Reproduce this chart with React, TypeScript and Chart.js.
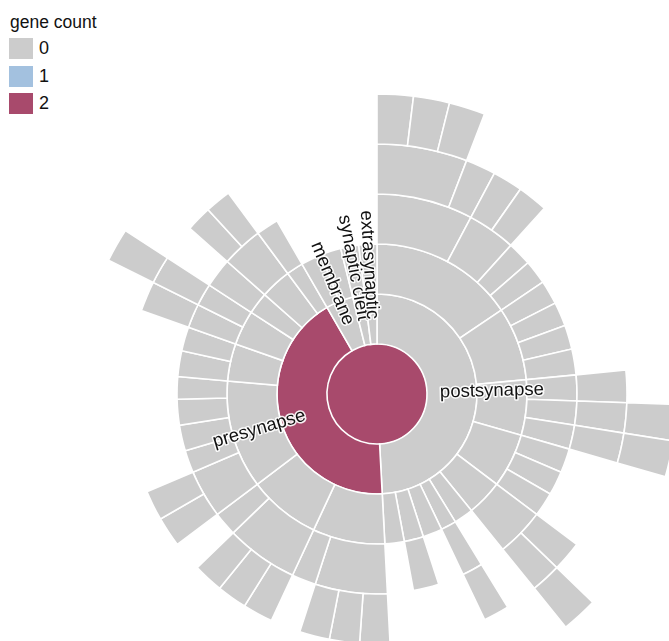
import React, { useEffect, useRef } from 'react';
import { Chart, registerables } from 'chart.js';

Chart.register(...registerables);

// colours of the gene-count scale
const countColors = ['#cccccc', '#a3c1df', '#a84a6c'];
const legendTitle = 'gene count';
const legendValues = [0, 1, 2];

// level 0 : synapse (whole circle)
const rootSpans = [360];
const rootCounts = [2];

// level 1 (degrees, clockwise from top)
const ring1Labels = ['postsynapse', 'presynapse', 'membrane', 'synaptic cleft', 'extrasynaptic'];
const ring1Spans = [177, 153, 16, 7, 7];
const ring1Counts = [0, 2, 0, 0, 0];

// level 2
const ring2Spans = [56, 28.5, 21.5, 21, 14, 7.5, 6, 7.5, 7.5, 7.5, 28, 28, 42, 14.5, 13.5, 8.5, 12, 6.5, 8, 8, 7, 7];
const ring2Counts = [0, 0, 0, 0, 0, 0, 0, 0, 0, 0, 0, 0, 0, 0, 0, 0, 0, 0, 0, 0, 0, 0];

// level 3 (null = no term)
const ring3Spans = [28, 14, 7, 7, 7, 7, 7, 7.5, 7.5, 7, 7, 7, 7, 7, 14, 7.5, 6, 7.5, 7.5, 7.5, 21, 7, 21, 7, 14, 6.5, 7.5, 7.5, 6.5, 7.5, 7, 7, 6.5, 8.5, 12, 6.5, 30];
const ring3Counts = [0, 0, 0, 0, 0, 0, 0, 0, 0, 0, 0, 0, 0, 0, 0, null, 0, null, 0, null, 0, 0, 0, 0, 0, 0, 0, 0, 0, 0, 0, 0, 0, 0, 0, 0, null];

// level 4
const ring4Spans = [21, 7, 7, 7, 42.5, 7.5, 7, 7, 21, 7, 7, 7.5, 6, 22.5, 7, 7, 7, 7, 7, 7, 7, 7, 7, 7, 42.5, 7, 6.5, 8.5, 6, 6, 36.5];
const ring4Counts = [0, 0, 0, 0, null, 0, 0, 0, null, 0, 0, null, 0, null, 0, 0, 0, null, 0, 0, 0, null, 0, 0, null, 0, 0, null, 0, 0, null];

// level 5
const ring5Spans = [7, 7, 7, 71, 7, 7, 28, 7, 155.5, 6.5, 57];
const ring5Counts = [0, 0, 0, null, 0, 0, null, 0, null, 0, null];

const CENTER_X = 377;
const CENTER_Y = 394;
const OUTER = 300;
const PAD = 4;
const SIZE = 2 * (OUTER + PAD);

function ring(spans: number[], counts: (number | null)[], border = 1.6) {
  return {
    data: spans,
    backgroundColor: counts.map((c) => (c === null ? 'rgba(0,0,0,0)' : countColors[c])),
    borderColor: '#ffffff',
    borderWidth: counts.map((c) => (c === null ? 0 : border)),
    borderAlign: 'center' as const,
    borderJoinStyle: 'miter' as const,
  };
}

const labelPlugin = {
  id: 'ringLabels',
  afterDatasetsDraw(chart: any) {
    const meta = chart.getDatasetMeta(4);
    const ctx = chart.ctx;
    ctx.save();
    ctx.font = '18.5px "Liberation Sans", Arial, sans-serif';
    ctx.textBaseline = 'middle';
    ctx.lineJoin = 'round';
    meta.data.forEach((arc: any, i: number) => {
      const p = arc.getProps(['x', 'y', 'startAngle', 'endAngle']);
      const mid = (p.startAngle + p.endAngle) / 2;
      const right = Math.cos(mid) >= 0;
      ctx.save();
      ctx.translate(p.x, p.y);
      const text = ring1Labels[i];
      if (right) {
        ctx.rotate(mid);
        ctx.textAlign = 'left';
        ctx.strokeStyle = 'rgba(255,255,255,0.9)';
        ctx.lineWidth = 3;
        ctx.strokeText(text, 63, 0);
        ctx.fillStyle = '#111';
        ctx.fillText(text, 63, 0);
      } else {
        ctx.rotate(mid + Math.PI);
        ctx.textAlign = 'right';
        ctx.strokeStyle = 'rgba(255,255,255,0.9)';
        ctx.lineWidth = 3;
        ctx.strokeText(text, -75, 0);
        ctx.fillStyle = '#111';
        ctx.fillText(text, -75, 0);
      }
      ctx.restore();
    });
    ctx.restore();
  },
};

export default function App() {
  const ref = useRef<HTMLCanvasElement | null>(null);

  useEffect(() => {
    if (!ref.current) return;
    const chart = new Chart(ref.current, {
      type: 'doughnut',
      data: {
        labels: [],
        datasets: [
          ring(ring5Spans, ring5Counts),
          ring(ring4Spans, ring4Counts),
          ring(ring3Spans, ring3Counts),
          ring(ring2Spans, ring2Counts),
          ring(ring1Spans, ring1Counts),
          ring(rootSpans, rootCounts, 0),
        ] as any,
      },
      options: {
        responsive: false,
        animation: false,
        events: [],
        radius: OUTER,
        cutout: 0,
        layout: { padding: PAD },
        plugins: { legend: { display: false }, tooltip: { enabled: false } },
      } as any,
      plugins: [labelPlugin],
    });
    return () => chart.destroy();
  }, []);

  return (
    <div
      style={{
        position: 'fixed',
        left: 0,
        top: 0,
        width: 669,
        height: 641,
        overflow: 'hidden',
        background: '#ffffff',
        fontFamily: '"Liberation Sans", Arial, sans-serif',
      }}
    >
      <canvas
        ref={ref}
        width={SIZE}
        height={SIZE}
        style={{
          position: 'absolute',
          left: CENTER_X - SIZE / 2,
          top: CENTER_Y - SIZE / 2,
          width: SIZE,
          height: SIZE,
        }}
      />
      <div style={{ position: 'absolute', left: 10, top: 12, fontSize: 17.5, lineHeight: '20px', color: '#111' }}>
        {legendTitle}
      </div>
      {legendValues.map((v, i) => (
        <div key={v} style={{ position: 'absolute', left: 9, top: 38 + i * 27.5, height: 21, display: 'flex', alignItems: 'center' }}>
          <div style={{ width: 24, height: 21, background: countColors[v] }} />
          <span style={{ marginLeft: 6, fontSize: 18, color: '#111' }}>{v}</span>
        </div>
      ))}
    </div>
  );
}
